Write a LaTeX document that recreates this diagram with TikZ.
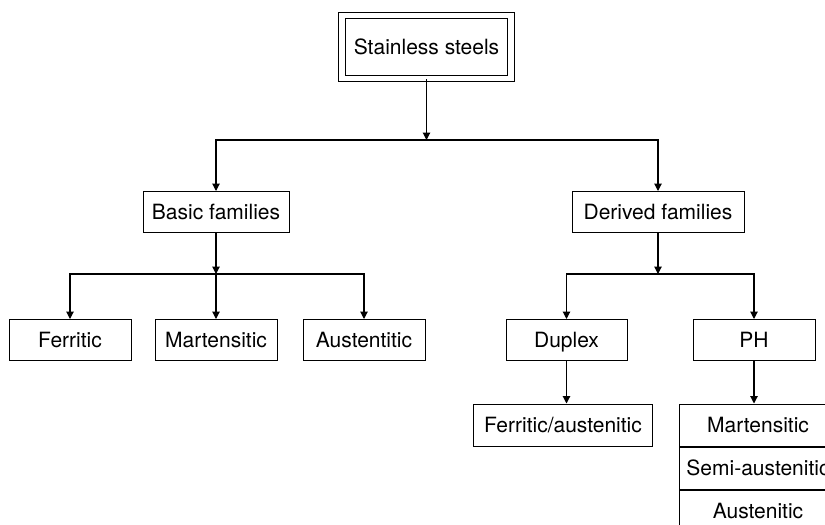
\documentclass[tikz,border=0pt]{standalone}
\usepackage{fontspec}
\setmainfont{TeX Gyre Heros}
\usetikzlibrary{arrows.meta}
\begin{document}
\begin{tikzpicture}[x=1pt,y=-1pt,
  every node/.style={font=\fontsize{21}{25}\selectfont, inner sep=0pt,
    text height=19pt, text depth=4pt},
  box/.style={draw, line width=1pt, minimum height=41pt},
  rootbox/.style={draw, double, line width=1pt, double distance=5.5pt,
    minimum width=169pt, minimum height=63pt},
  link/.style={line width=1.1pt},
  arr/.style={link, -{Triangle[length=7.5pt,width=7.5pt]}}]
\useasboundingbox (0,0) rectangle (825,525);
\clip (0,0) rectangle (825,525);

% top of the tree
\node[rootbox] (root) at (426.5,47) {Stainless steels};

% first level
\node[box, minimum width=146pt] (basic) at (216,212) {Basic families};
\node[box, minimum width=172pt] (derived) at (658,212) {Derived families};

% basic families
\node[box, minimum width=122pt] (ferr) at (70,340) {Ferritic};
\node[box, minimum width=122pt] (mart) at (216,340) {Martensitic};
\node[box, minimum width=122pt] (aust) at (364,340) {Austentitic};

% derived families
\node[box, minimum width=121pt] (duplex) at (566.5,340) {Duplex};
\node[box, minimum width=122pt] (ph) at (754,340) {PH};
\node[box, minimum width=179pt, minimum height=42pt] (fa) at (563,425) {Ferritic/austenitic};

% precipitation hardening sub-types, stacked
\node[box, minimum width=158pt, minimum height=42pt] (phm) at (758,425) {Martensitic};
\node[box, minimum width=158pt, minimum height=42pt, anchor=north] (phs) at (phm.south) {Semi-austenitic};
\node[box, minimum width=158pt, minimum height=42pt, anchor=north] (pha) at (phs.south) {Austenitic};

% junctions
\coordinate (j1) at (426.5,140);
\coordinate (j2) at (216,274);
\coordinate (j3) at (658,274);

% connectors
\draw[arr] (root.south) -- (j1);
\draw[arr] (j1) -| (basic.north);
\draw[arr] (j1) -| (derived.north);

\draw[arr] (basic.south) -- (j2);
\draw[arr] (j2) -| (ferr.north);
\draw[arr] (j2) -- (mart.north);
\draw[arr] (j2) -| (aust.north);

\draw[arr] (derived.south) -- (j3);
\draw[arr] (j3) -| (duplex.north);
\draw[arr] (j3) -| (ph.north);

\draw[arr] (duplex.south) -- (duplex.south |- fa.north);
\draw[arr] (ph.south) -- (ph.south |- phm.north);
\end{tikzpicture}
\end{document}
